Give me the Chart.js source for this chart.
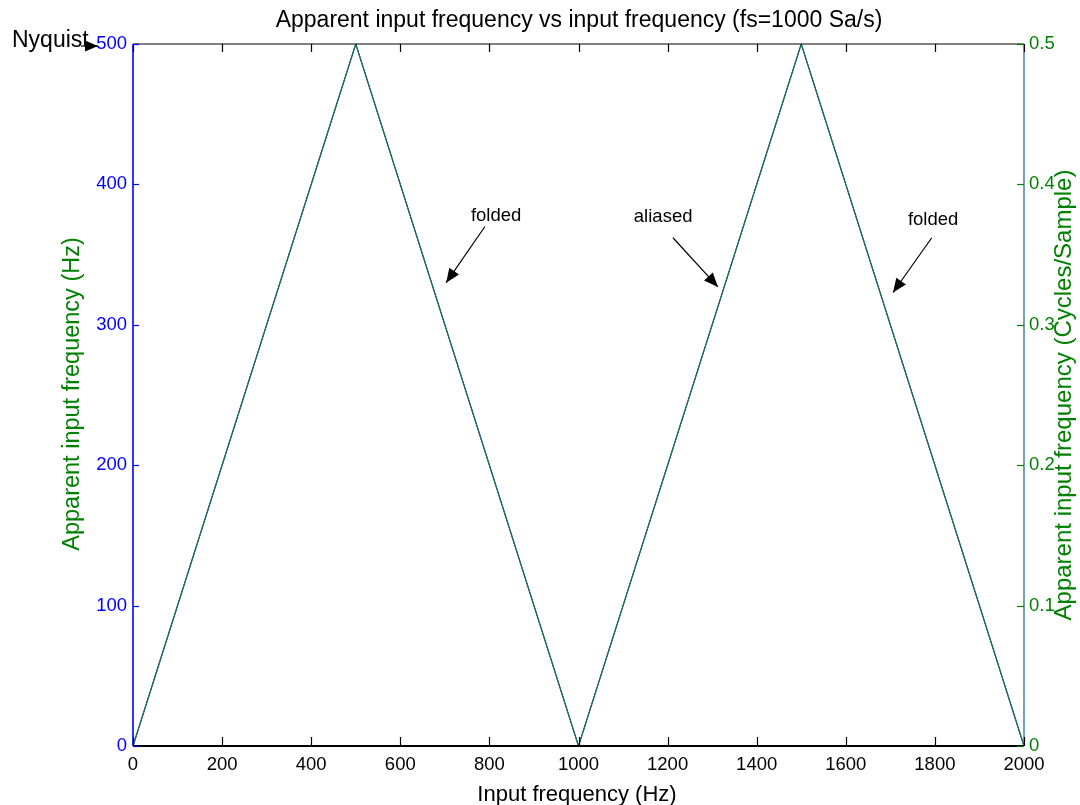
<!DOCTYPE html>
<html><head><meta charset="utf-8">
<script src="https://cdn.jsdelivr.net/npm/chart.js@4/dist/chart.umd.min.js"></script>
<style>html,body{margin:0;padding:0;background:#fff}#wrap{width:1080px;height:805px}</style>
</head><body><div id="wrap"><canvas id="c" width="1080" height="805"></canvas></div>
<script>
const inputFreq = [0, 500, 1000, 1500, 2000];
const apparentHz = [0, 500, 0, 500, 0];
const apparentCyc = [0, 0.5, 0, 0.5, 0];
const xTicks = [0,200,400,600,800,1000,1200,1400,1600,1800,2000];
const yTicks = [0,100,200,300,400,500];
const y2Ticks = [0,0.1,0.2,0.3,0.4,0.5];
const titleText = 'Apparent input frequency vs input frequency (fs=1000 Sa/s)';
const xTitle = 'Input frequency (Hz)';
const yTitle = 'Apparent input frequency (Hz)';
const y2Title = 'Apparent input frequency (Cycles/Sample)';
// annotations: [text, textX, textY, tailX, tailY, tipX, tipY] in data units
const notes = [
  ['folded', 815, 379, 790, 370, 703, 330],
  ['aliased', 1190, 378, 1212, 362, 1313, 327],
  ['folded', 1796, 376, 1793, 362, 1706, 323]
];

const F = '"Liberation Sans", Arial, sans-serif';
const BLUE = '#0000ff', GREEN = '#008000', LINE = '#1f6e52';

function arrow(ctx, x1, y1, x2, y2, head) {
  ctx.beginPath(); ctx.moveTo(x1, y1); ctx.lineTo(x2, y2); ctx.stroke();
  const a = Math.atan2(y2 - y1, x2 - x1);
  const L = head, W = head * 0.42;
  ctx.beginPath();
  ctx.moveTo(x2, y2);
  ctx.lineTo(x2 - L*Math.cos(a) + W*Math.sin(a), y2 - L*Math.sin(a) - W*Math.cos(a));
  ctx.lineTo(x2 - L*Math.cos(a) - W*Math.sin(a), y2 - L*Math.sin(a) + W*Math.cos(a));
  ctx.closePath(); ctx.fill();
}

const deco = {
  id: 'deco',
  afterDraw(chart) {
    const ctx = chart.ctx, a = chart.chartArea;
    const xs = chart.scales.x, ys = chart.scales.y, y2 = chart.scales.y2;
    ctx.save();
    // frame
    ctx.lineWidth = 1.2;
    ctx.strokeStyle = '#000';
    ctx.beginPath(); ctx.moveTo(a.left, a.top); ctx.lineTo(a.right, a.top); ctx.stroke();
    ctx.lineWidth = 2.2;
    ctx.beginPath(); ctx.moveTo(a.left, a.bottom); ctx.lineTo(a.right, a.bottom); ctx.stroke();
    ctx.strokeStyle = BLUE; ctx.lineWidth = 1.6;
    ctx.beginPath(); ctx.moveTo(a.left, a.top); ctx.lineTo(a.left, a.bottom); ctx.stroke();
    ctx.strokeStyle = '#1f6080'; ctx.lineWidth = 1.2;
    ctx.beginPath(); ctx.moveTo(a.right, a.top); ctx.lineTo(a.right, a.bottom); ctx.stroke();
    // x ticks inward top & bottom
    ctx.strokeStyle = '#000'; ctx.lineWidth = 1.2;
    xTicks.forEach(v => {
      const px = Math.round(xs.getPixelForValue(v)) + 0.5;
      ctx.beginPath(); ctx.moveTo(px, a.bottom); ctx.lineTo(px, a.bottom - 9); ctx.stroke();
      ctx.beginPath(); ctx.moveTo(px, a.top); ctx.lineTo(px, a.top + 8); ctx.stroke();
    });
    ctx.strokeStyle = BLUE;
    yTicks.forEach(v => {
      const py = Math.round(ys.getPixelForValue(v)) + 0.5;
      ctx.beginPath(); ctx.moveTo(a.left, py); ctx.lineTo(a.left + 6, py); ctx.stroke();
    });
    ctx.strokeStyle = GREEN;
    y2Ticks.forEach(v => {
      const py = Math.round(y2.getPixelForValue(v)) + 0.5;
      ctx.beginPath(); ctx.moveTo(a.right, py); ctx.lineTo(a.right - 7, py); ctx.stroke();
    });
    // titles
    ctx.fillStyle = '#000'; ctx.textAlign = 'center'; ctx.textBaseline = 'alphabetic';
    ctx.font = '23px ' + F;
    ctx.fillText(titleText, 579, 27);
    ctx.font = '22px ' + F;
    ctx.fillText(xTitle, 577, 801);
    ctx.fillStyle = GREEN;
    ctx.font = '23.5px ' + F;
    ctx.save(); ctx.translate(79, 394); ctx.rotate(-Math.PI / 2);
    ctx.fillText(yTitle, 0, 0); ctx.restore();
    ctx.font = '24px ' + F;
    ctx.save(); ctx.translate(1071, 395); ctx.rotate(-Math.PI / 2);
    ctx.fillText(y2Title, 0, 0); ctx.restore();
    // notes
    ctx.fillStyle = '#000'; ctx.strokeStyle = '#000'; ctx.lineWidth = 1.2;
    ctx.font = '18.5px ' + F;
    notes.forEach(n => {
      ctx.fillText(n[0], xs.getPixelForValue(n[1]), ys.getPixelForValue(n[2]) + 7);
      arrow(ctx, xs.getPixelForValue(n[3]), ys.getPixelForValue(n[4]),
            xs.getPixelForValue(n[5]), ys.getPixelForValue(n[6]), 14);
    });
    // Nyquist
    ctx.font = '23px ' + F; ctx.textAlign = 'left';
    const ny = ys.getPixelForValue(500);
    ctx.fillText('Nyquist', 12, ny + 3);
    arrow(ctx, 81, ny + 2, 98, ny + 2, 13);
    ctx.restore();
  }
};

const tickFont = { family: F, size: 18.5 };
new Chart(document.getElementById('c'), {
  type: 'scatter',
  data: {
    datasets: [
      { data: inputFreq.map((x, i) => ({x, y: apparentHz[i]})), yAxisID: 'y', showLine: true,
        borderColor: BLUE, borderWidth: 1, pointRadius: 0, order: 2 },
      { data: inputFreq.map((x, i) => ({x, y: apparentCyc[i]})), yAxisID: 'y2', showLine: true,
        borderColor: LINE, borderWidth: 1.3, pointRadius: 0, order: 1 }
    ]
  },
  options: {
    responsive: false, animation: false,
    layout: { padding: { top: 44, left: 0, right: 0, bottom: 0 } },
    plugins: { legend: { display: false }, tooltip: { enabled: false }, title: { display: false } },
    scales: {
      x: { type: 'linear', min: 0, max: 2000, afterFit: s => { s.height = 59; },
        afterBuildTicks: s => { s.ticks = xTicks.map(v => ({value: v})); },
        grid: { display: false, drawTicks: false }, border: { display: false },
        ticks: { color: '#000', font: tickFont, padding: 8, maxRotation: 0, autoSkip: false, callback: v => String(v) } },
      y: { type: 'linear', position: 'left', min: 0, max: 500, afterFit: s => { s.width = 133; },
        afterBuildTicks: s => { s.ticks = yTicks.map(v => ({value: v})); },
        grid: { display: false, drawTicks: false }, border: { display: false },
        ticks: { color: BLUE, font: tickFont, padding: 6, callback: v => String(v) } },
      y2: { type: 'linear', position: 'right', min: 0, max: 0.5, afterFit: s => { s.width = 56; },
        afterBuildTicks: s => { s.ticks = y2Ticks.map(v => ({value: v})); },
        grid: { display: false, drawTicks: false }, border: { display: false },
        ticks: { color: GREEN, font: tickFont, padding: 5, callback: v => String(v) } }
    }
  },
  plugins: [deco]
});
</script></body></html>
